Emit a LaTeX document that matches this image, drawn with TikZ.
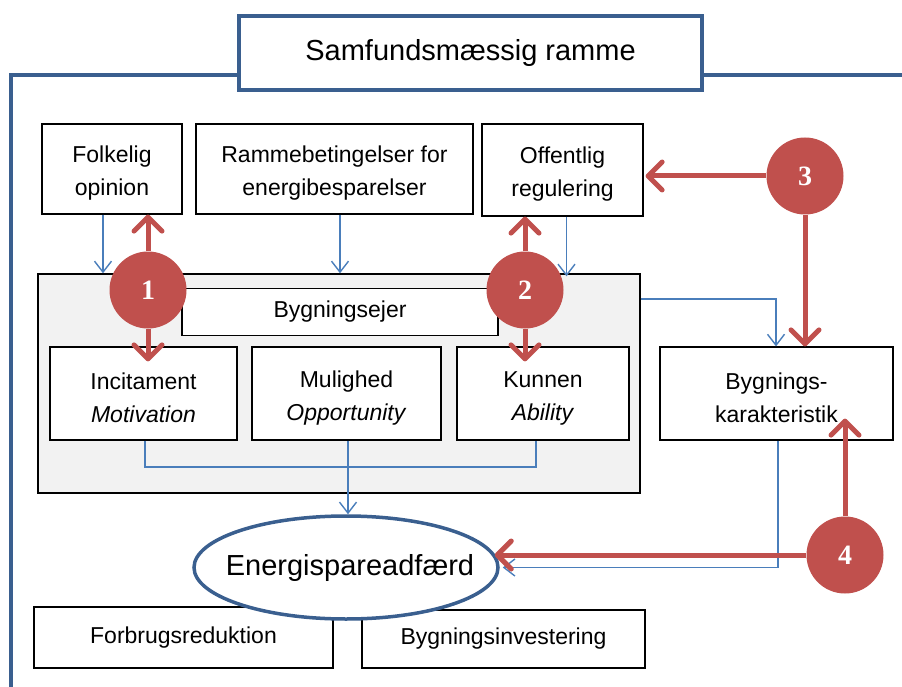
\documentclass[tikz,border=0pt]{standalone}
\usepackage{fontspec}
\setmainfont{Liberation Sans}
\newfontfamily\numfont{Liberation Serif}
\usetikzlibrary{arrows.meta,calc,shapes.geometric}
\definecolor{frameblue}{HTML}{3A5F8F}
\definecolor{lineblue}{HTML}{4A7EBB}
\definecolor{redc}{HTML}{C0504D}
\definecolor{greyfill}{HTML}{F2F2F2}
\newcommand\myup{\rule{0pt}{25pt}}
\begin{document}
\begin{tikzpicture}[x=1pt,y=-1pt,
 box/.style={draw=black, line width=1.2pt, fill=white, rectangle, inner sep=0pt, align=center, font=\fontsize{23}{33}\selectfont},
 bluearr/.style={draw=lineblue, line width=1.4pt, -{Straight Barb[length=11pt,width=17pt]}},
 blueln/.style={draw=lineblue, line width=1.4pt},
 redarr/.style={draw=redc, line width=5pt, -{Straight Barb[round,length=14pt,width=28pt]}},
 numc/.style={circle, fill=redc, draw=none, minimum size=77pt, inner sep=0pt, text=white, font=\numfont\bfseries\fontsize{28}{28}\selectfont}]
\useasboundingbox (0,0) rectangle (902,687);
% frame
\draw[frameblue, line width=4pt] (11,692) -- (11,75) -- (906,75);
\node[draw=frameblue, line width=3.5pt, fill=white, minimum width=463pt, minimum height=74pt, inner sep=0pt, font=\fontsize{29}{34}\selectfont] (title) at (470.5,53) {Samfundsmæssig ramme};
% top boxes
\node[box, minimum width=140pt, minimum height=90pt] (folk) at (112,169) {\myup Folkelig\\opinion};
\node[box, minimum width=277pt, minimum height=90pt] (ramme) at (334.5,169) {\myup Rammebetingelser for\\energibesparelser};
\node[box, minimum width=161pt, minimum height=92pt] (off) at (562.5,170) {\myup Offentlig\\regulering};
% container
\node[draw=black, line width=1.4pt, fill=greyfill, minimum width=602pt, minimum height=219pt, inner sep=0pt] (cont) at (339,383.5) {};
\node[box, minimum width=316pt, minimum height=47pt] (ejer) at (340,312) {Bygningsejer};
\node[box, minimum width=187pt, minimum height=93pt] (inc) at (143.5,393.5) {\myup Incitament\\\textit{Motivation}};
\node[box, minimum width=189pt, minimum height=93pt] (mul) at (346.5,393.5) {\myup Mulighed\\\textit{Opportunity}};
\node[box, minimum width=172pt, minimum height=93pt] (kun) at (543,393.5) {\myup Kunnen\\\textit{Ability}};
\node[box, minimum width=233pt, minimum height=93pt] (byg) at (776.5,393.5) {\myup Bygnings-\\karakteristik};
% bottom boxes
\node[box, minimum width=299pt, minimum height=61pt] (forb) at (183.5,637.5) {Forbrugsreduktion};
\node[box, minimum width=283pt, minimum height=58pt] (inv) at (503.5,639) {Bygningsinvestering};
% blue connectors
\coordinate (fa) at ([xshift=-9pt]folk.south);
\coordinate (ra) at ([xshift=5.5pt]ramme.south);
\coordinate (oa) at ([xshift=4pt]off.south);
\draw[bluearr] (fa) -- (fa |- cont.north);
\draw[bluearr] (ra) -- (ra |- cont.north);
\draw[bluearr] (oa) -- ([yshift=-3pt]oa |- cont.north);
\coordinate (cb) at (cont.east |- 0,299);
\coordinate (bt) at (byg.north -| 776,0);
\draw[bluearr] (cb) -| (bt);
\coordinate (ib) at (inc.south -| 145,0);
\coordinate (kb) at (kun.south -| 536,0);
\coordinate (mb) at (mul.south -| 348,0);
\coordinate (bb) at (byg.south -| 778,0);
\draw[blueln] (ib) -- (ib |- 0,467) -- (kb |- 0,467) -- (kb);
% ellipse
\node[ellipse, draw=frameblue, line width=3.5pt, fill=white, minimum width=304pt, minimum height=103pt, inner sep=0pt] (ell) at (346,567.5) {};
\node[font=\fontsize{29}{34}\selectfont, inner sep=0pt] (elltxt) at (350,568) {Energispareadfærd};
\draw[bluearr] (mb) -- (mb |- ell.north);
\draw[bluearr] (bb) -- (bb |- ell.east) -- ([xshift=3pt]ell.east);
% red circles and arrows
\node[numc] (c1) at (148,290) {1};
\node[numc] (c2) at (525,290) {2};
\node[numc] (c3) at (805,176) {3};
\node[numc] (c4) at (845,555) {4};
\draw[redarr] (c1) -- (folk.south -| c1);
\draw[redarr] (c1) -- ([yshift=-15pt]inc.north -| c1);
\draw[redarr] (c2) -- (off.south -| c2);
\draw[redarr] (c2) -- ([yshift=-15pt]kun.north -| c2);
\draw[redarr] (c3) -- ([xshift=2pt]off.east |- c3);
\draw[redarr] (c3) -- (byg.north -| c3);
\coordinate (c4u) at ([yshift=22pt]byg.south -| c4);
\draw[redarr] (c4) -- (c4u);
\coordinate (c4l) at ([xshift=-5pt]ell.east |- c4);
\draw[redarr] (c4) -- (c4l);
\end{tikzpicture}
\end{document}
